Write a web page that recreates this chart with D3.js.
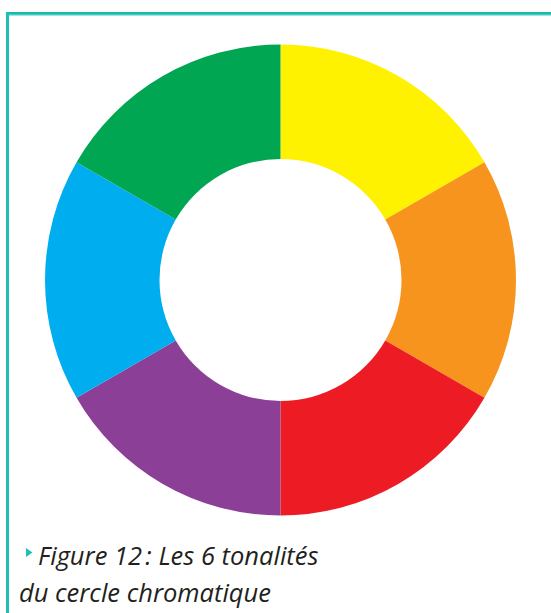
<!DOCTYPE html>
<html>
<head>
<meta charset="utf-8">
<script src="https://cdn.jsdelivr.net/npm/d3@7"></script>
<style>
  body { margin: 0; background: #fff; }
  svg { display: block; }
</style>
</head>
<body>
<svg width="551" height="613"></svg>
<script>
// six hues, clockwise from 12 o'clock
const hues = ["jaune", "orange", "rouge", "violet", "bleu", "vert"];
const shares = [1, 1, 1, 1, 1, 1];
const hueColors = ["#fff200", "#f7941d", "#ed1c24", "#8c3f97", "#00aeef", "#00a651"];
const captionLines = ["Figure 12\u202F: Les 6 tonalités", "du cercle chromatique"];

const svg = d3.select("svg");

// frame: top and left teal rules
svg.append("rect").attr("x", 6).attr("y", 12).attr("width", 545).attr("height", 2).attr("fill", "#1ab9ac");
svg.append("rect").attr("x", 6).attr("y", 14).attr("width", 545).attr("height", 1.5).attr("fill", "#45cdc1");
svg.append("rect").attr("x", 6).attr("y", 12).attr("width", 3).attr("height", 601).attr("fill", "#1fbfb1");

const color = d3.scaleOrdinal().domain(hues).range(hueColors);
const pie = d3.pie().sort(null).value((d, i) => shares[i]);
const arc = d3.arc().innerRadius(121).outerRadius(235.5);

const wheel = svg.append("g").attr("transform", "translate(280.5,280)");
wheel.selectAll("path")
  .data(pie(hues))
  .join("path")
  .attr("d", arc)
  .attr("fill", (d) => color(d.data));

// caption
svg.append("path")
  .attr("d", "M26,548L32.5,552.5L26,557Z")
  .attr("fill", "#1fbfb1");

svg.selectAll("text.caption")
  .data(captionLines)
  .join("text")
  .attr("class", "caption")
  .attr("x", (d, i) => (i === 0 ? 38 : 19))
  .attr("y", (d, i) => 565 + i * 37)
  .attr("font-family", "'Open Sans', sans-serif")
  .attr("font-style", "italic")
  .attr("font-size", 25.5)
  .attr("fill", "#231f20")
  .text((d) => d);
</script>
</body>
</html>
